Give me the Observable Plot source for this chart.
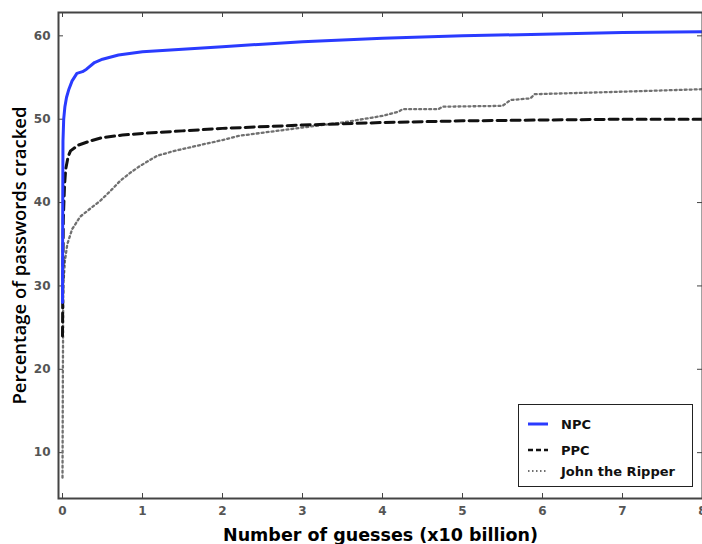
<!DOCTYPE html>
<html>
<head>
<meta charset="utf-8">
<script src="https://cdn.jsdelivr.net/npm/d3@7"></script>
<script src="https://cdn.jsdelivr.net/npm/@observablehq/plot@0.6"></script>
<style>
  html, body { margin: 0; padding: 0; background: #fff; }
  #wrap { position: relative; width: 702px; height: 544px; overflow: hidden; }
  #legend { position: absolute; left: 518px; top: 404px; width: 175px; height: 83px;
    border: 1.5px solid #222; background: #fff; box-sizing: border-box;
    font-family: "DejaVu Sans", Verdana, sans-serif; font-weight: bold; font-size: 13px; color: #111; }
  .row { position: absolute; left: 8px; height: 18px; display: flex; align-items: center; }
  .row svg { width: 24px; height: 10px; margin-right: 10px; }
</style>
</head>
<body>
<div id="wrap"></div>
<script>
const seriesNames = ["NPC", "PPC", "John the Ripper"];

const npcX = [0, 0.003, 0.006, 0.015, 0.03, 0.05, 0.08, 0.12, 0.18, 0.25, 0.3, 0.4, 0.5, 0.7, 1.0, 1.5, 2.0, 2.5, 3.0, 4.0, 5.0, 6.0, 7.0, 8.0];
const npcY = [28, 40, 47.4, 50, 51.5, 52.6, 53.6, 54.6, 55.5, 55.7, 56.0, 56.8, 57.2, 57.7, 58.1, 58.4, 58.7, 59.0, 59.3, 59.7, 60.0, 60.2, 60.4, 60.5];

const ppcX = [0, 0.005, 0.01, 0.025, 0.04, 0.07, 0.1, 0.2, 0.35, 0.5, 0.75, 1.0, 1.5, 2.0, 3.0, 4.0, 5.0, 6.0, 7.0, 8.0];
const ppcY = [24, 32, 38, 42, 44, 45.5, 46.2, 46.9, 47.4, 47.8, 48.1, 48.3, 48.6, 48.9, 49.3, 49.6, 49.8, 49.9, 50.0, 50.0];

const jtrX = [0, 0.005, 0.01, 0.03, 0.06, 0.12, 0.22, 0.35, 0.47, 0.6, 0.72, 0.85, 0.97, 1.18, 1.4, 1.72, 2.0, 2.2, 2.6, 3.0, 3.5, 4.0, 4.2, 4.25, 4.7, 4.75, 5.5, 5.6, 5.85, 5.9, 7.0, 8.0];
const jtrY = [7, 20, 30, 33, 35, 36.8, 38.3, 39.3, 40.2, 41.4, 42.6, 43.6, 44.4, 45.6, 46.2, 46.9, 47.5, 48.0, 48.5, 49.0, 49.6, 50.4, 50.9, 51.2, 51.2, 51.5, 51.6, 52.3, 52.5, 53.0, 53.3, 53.6];

const xTicks = [0, 1, 2, 3, 4, 5, 6, 7, 8];
const yTicks = [10, 20, 30, 40, 50, 60];
const xLabel = "Number of guesses (x10 billion)";
const yLabel = "Percentage of passwords cracked";

const toRows = (xs, ys) => xs.map((x, i) => ({x, y: ys[i]}));
const npc = toRows(npcX, npcY);
const ppc = toRows(ppcX, ppcY);
const jtr = toRows(jtrX, jtrY);

const W = 702, H = 544, mL = 58, mR = 0, mT = 12, mB = 46;
const innerW = W - mL - mR, innerH = H - mT - mB;
const font = "'DejaVu Sans', Verdana, sans-serif";

const chart = Plot.plot({
  width: W, height: H,
  marginLeft: mL, marginRight: mR, marginTop: mT, marginBottom: mB,
  style: {fontFamily: font, background: "#fff", overflow: "visible"},
  x: {domain: [-0.05, 8]},
  y: {domain: [4.5, 62.8]},
  marks: [
    // inward ticks
    Plot.tickY(yTicks, {y: d => d, stroke: "#444", insetRight: innerW - 5}),
    Plot.tickY(yTicks, {y: d => d, stroke: "#444", insetLeft: innerW - 5}),
    Plot.tickX(xTicks, {x: d => d, stroke: "#444", insetTop: innerH - 5}),
    Plot.tickX(xTicks, {x: d => d, stroke: "#444", insetBottom: innerH - 5}),
    Plot.line(jtr, {x: "x", y: "y", stroke: "#707070", strokeWidth: 2.3, strokeDasharray: "2,3"}),
    Plot.line(ppc, {x: "x", y: "y", stroke: "#111", strokeWidth: 3, strokeDasharray: "9,5"}),
    Plot.line(npc, {x: "x", y: "y", stroke: "#2a3bff", strokeWidth: 3}),
    Plot.frame({stroke: "#444", strokeWidth: 2}),
    Plot.axisY(yTicks, {anchor: "left", tickSize: 0, tickPadding: 8, fill: "#555", fontSize: 12, fontWeight: "bold",
      label: yLabel, labelAnchor: "center", labelOffset: 46}),
    Plot.axisX(xTicks, {anchor: "bottom", tickSize: 0, tickPadding: 8, fill: "#555", fontSize: 12, fontWeight: "bold",
      label: xLabel, labelAnchor: "center", labelOffset: 42})
  ]
});

// style axis labels (drop the arrows Plot adds)
const yl = chart.querySelector("[aria-label='y-axis label'] text");
if (yl) {
  yl.textContent = yLabel;
  yl.setAttribute("fill", "#000");
  yl.style.fontSize = "18.5px";
  yl.style.fontWeight = "600";
  yl.style.fontFamily = "'Open Sans', sans-serif";
}
const xl = chart.querySelector("[aria-label='x-axis label'] text");
if (xl) {
  xl.textContent = xLabel;
  xl.setAttribute("fill", "#000");
  xl.style.fontSize = "17.5px";
  xl.style.fontWeight = "bold";
}

const wrap = document.getElementById("wrap");
wrap.appendChild(chart);

// legend
const legend = document.createElement("div");
legend.id = "legend";
const styles = [
  {stroke: "#2a3bff", dash: null, w: 3},
  {stroke: "#111", dash: "5,3", w: 2.5},
  {stroke: "#707070", dash: "1.5,2.5", w: 2}
];
const tops = [10, 36, 57];
seriesNames.forEach((name, i) => {
  const row = document.createElement("div");
  row.className = "row";
  row.style.top = tops[i] + "px";
  const s = styles[i];
  row.innerHTML = `<svg viewBox="0 0 24 10"><line x1="1" x2="21" y1="5" y2="5" stroke="${s.stroke}" stroke-width="${s.w}" ${s.dash ? `stroke-dasharray="${s.dash}"` : ""}/></svg><span>${name}</span>`;
  legend.appendChild(row);
});
wrap.appendChild(legend);
</script>
</body>
</html>
